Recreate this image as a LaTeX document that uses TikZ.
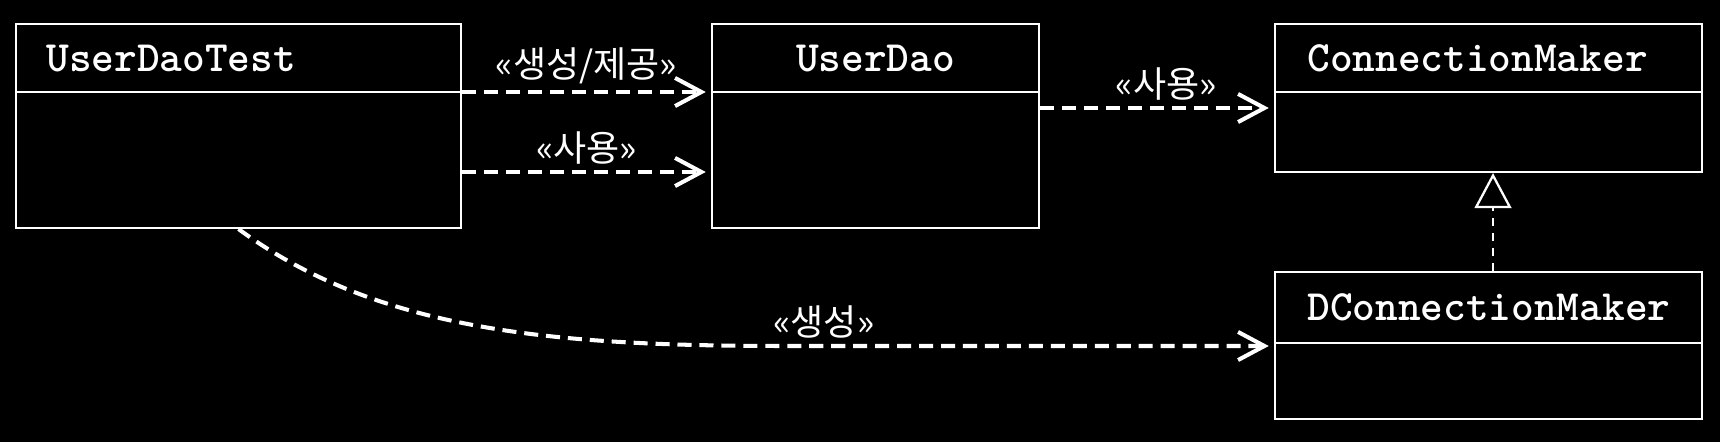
\documentclass[tikz,border=0pt]{standalone}
\usepackage{fontspec}
\newfontfamily\kr{Noto Sans CJK KR}
\usetikzlibrary{arrows.meta}

\tikzset{
  cls/.style={draw=white, line width=1.2pt, fill=black},
  sep/.style={draw=white, line width=1.2pt},
  ttl/.style={text=white, font=\ttfamily\bfseries\fontsize{24.6}{24.6}\selectfont, inner sep=0pt},
  lbl/.style={text=white, font=\kr\fontsize{20.5}{20.5}\selectfont},
  dep/.style={draw=white, line width=2.3pt, dash pattern=on 8pt off 4.5pt, -{Straight Barb[length=15pt,width=16pt]}, shorten >=3pt},
  real/.style={draw=white, line width=1.3pt, dash pattern=on 4.5pt off 4pt, -{Triangle[length=20pt,width=21pt,fill=black]}},
}

\begin{document}
\begin{tikzpicture}[x=0.02cm,y=-0.02cm]
\fill[black] (0,0) rectangle (1720,442);
\useasboundingbox (0,0) rectangle (1720,442);
% classes
\node[cls, minimum width=8.9cm, minimum height=4.08cm] (test) at (238.5,126) {};
\node[cls, minimum width=6.54cm, minimum height=4.08cm] (udao) at (875.5,126) {};
\node[cls, minimum width=8.54cm, minimum height=2.96cm] (cm) at (1488.5,98) {};
\node[cls, minimum width=8.54cm, minimum height=2.94cm] (dcm) at (1488.5,345.5) {};
\draw[sep] (test.west |- 0,92) -- (test.east |- 0,92);
\draw[sep] (udao.west |- 0,92) -- (udao.east |- 0,92);
\draw[sep] (cm.west |- 0,92) -- (cm.east |- 0,92);
\draw[sep] (dcm.west |- 0,343) -- (dcm.east |- 0,343);
\node[ttl, anchor=base west] (testname) at (46,72) {UserDaoTest};
\node[ttl, anchor=base] (udaoname) at (875.5,72) {UserDao};
\node[ttl, anchor=base west] (cmname) at (1307,72) {ConnectionMaker};
\node[ttl, anchor=base west] (dcmname) at (1307,320) {DConnectionMaker};
% dependencies
\draw[dep] (test.east |- 0,92) -- (udao.west |- 0,92) node[lbl, above, pos=0.5] (lmake) {«생성/제공»};
\draw[dep] (test.east |- 0,172) -- (udao.west |- 0,172) node[lbl, above, pos=0.5] (luse) {«사용»};
\draw[dep] (udao.east |- 0,108) -- (cm.west |- 0,108) node[lbl, above, pos=0.54] (luse2) {«사용»};
\draw[dep] (test.south) .. controls (380,333) and (560,346) .. (790,346) -- (dcm.west |- 0,346) node[lbl, above, pos=0.07] (lcreate) {«생성»};
% realization
\draw[real] (1493,0 |- dcm.north) -- (1493,0 |- cm.south);
\end{tikzpicture}
\end{document}
